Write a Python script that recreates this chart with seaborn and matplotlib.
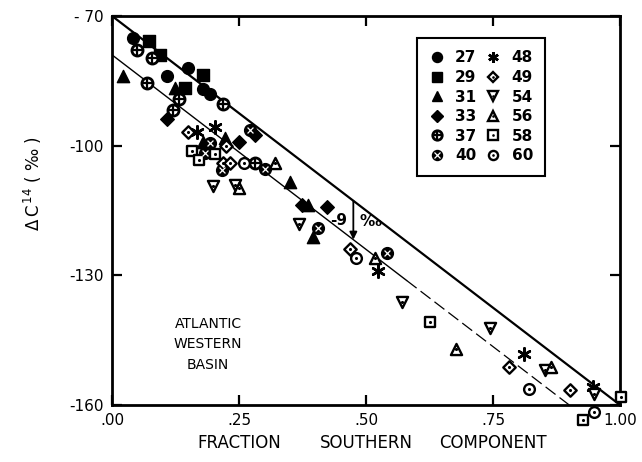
import numpy as np
import pandas as pd
import matplotlib
matplotlib.use('Agg')
import matplotlib.pyplot as plt
import seaborn as sns
from matplotlib.lines import Line2D

sns.set_style('ticks')
plt.rcParams['font.family'] = ['DejaVu Sans']
plt.rcParams['text.color'] = 'black'
plt.rcParams['xtick.color'] = 'black'
plt.rcParams['ytick.color'] = 'black'
plt.rcParams['xtick.labelcolor'] = 'black'
plt.rcParams['ytick.labelcolor'] = 'black'

# ---------------- data ----------------
x27 = [0.041, 0.108, 0.150, 0.180, 0.193]
y27 = [-75.0, -84.0, -82.0, -86.9, -88.1]
x29 = [0.072, 0.094, 0.180, 0.144]
y29 = [-75.9, -79.0, -83.7, -86.6]
x31 = [0.022, 0.123, 0.222, 0.180, 0.350, 0.386, 0.396]
y31 = [-84.0, -86.7, -98.3, -99.1, -108.5, -113.8, -121.2]
x33 = [0.109, 0.281, 0.250, 0.373, 0.423]
y33 = [-93.9, -97.5, -99.1, -113.8, -114.1]
x37 = [0.050, 0.078, 0.068, 0.132, 0.219, 0.121, 0.281]
y37 = [-77.9, -79.8, -85.6, -89.1, -90.4, -91.8, -103.9]
x40 = [0.272, 0.193, 0.183, 0.216, 0.301, 0.405, 0.541]
y40 = [-96.4, -99.5, -101.8, -105.6, -105.3, -119.1, -124.9]
x48 = [0.168, 0.203, 0.524, 0.810, 0.947]
y48 = [-96.8, -95.8, -129.0, -148.1, -155.8]
x49 = [0.149, 0.224, 0.219, 0.232, 0.469, 0.782, 0.902]
y49 = [-96.9, -100.0, -104.1, -103.9, -123.8, -151.3, -156.6]
x54 = [0.199, 0.242, 0.369, 0.570, 0.744, 0.852, 0.949]
y54 = [-109.4, -109.1, -118.2, -136.1, -142.3, -151.9, -157.5]
x56 = [0.321, 0.249, 0.518, 0.677, 0.864]
y56 = [-103.9, -109.9, -126.1, -147.1, -151.3]
x58 = [0.157, 0.171, 0.203, 0.626, 1.001, 0.928]
y58 = [-101.2, -103.3, -101.9, -140.9, -158.1, -163.4]
x60 = [0.259, 0.480, 0.821, 0.949]
y60 = [-104.1, -126.1, -156.2, -161.6]

upper_x = [0.0, 1.0]
upper_y = [-70.0, -160.0]
lower_solid_x = [0.0, 0.58]
lower_solid_y = [-79.0, -131.2]
lower_dash_x = [0.58, 0.90]
lower_dash_y = [-131.2, -160.0]
arrow_x = 0.475
arrow_top = -112.75
arrow_bottom = -121.75

xticks = [0.0, 0.25, 0.5, 0.75, 1.0]
xticklabels = ['.00', '.25', '.50', '.75', '1.00']
yticks = [-160, -130, -100, -70]
yticklabels = ['-160', '-130', '-100', '- 70']
series_labels = ['27', '29', '31', '33', '37', '40', '48', '49', '54', '56', '58', '60']

# ---------------- figure ----------------
fig = plt.figure(figsize=(6.42, 4.62), dpi=100)
ax = fig.add_axes([0.1745, 0.1234, 0.7913, 0.842])

# reference lines
sns.lineplot(x=upper_x, y=upper_y, ax=ax, color='black', lw=1.6, zorder=2)
sns.lineplot(x=lower_solid_x, y=lower_solid_y, ax=ax, color='black', lw=1.0, zorder=2)
ax.plot(lower_dash_x, lower_dash_y, color='black', lw=0.9, dashes=(10, 4), zorder=2)

# marker styles: list of (marker, face, edge, lw, size) layers
BLK = 'black'
WHT = 'white'
dot = ('o', BLK, BLK, 0, 5)
styles = {
    '27': [('o', BLK, BLK, 1, 72)],
    '29': [('s', BLK, BLK, 1, 64)],
    '31': [('^', BLK, BLK, 1, 78)],
    '33': [('D', BLK, BLK, 1, 48)],
    '37': [('o', WHT, BLK, 2.0, 64), ('+', BLK, BLK, 1.6, 45)],
    '40': [('o', BLK, BLK, 1, 72), ('x', WHT, WHT, 0.9, 18)],
    '48': [((6, 2, 0), BLK, BLK, 1.8, 80)],
    '49': [('D', WHT, BLK, 1.7, 40), dot],
    '54': [('v', WHT, BLK, 1.7, 64), dot],
    '56': [('^', WHT, BLK, 1.7, 64), dot],
    '58': [('s', WHT, BLK, 1.7, 60), dot],
    '60': [('o', WHT, BLK, 1.7, 60), dot],
}
data = {
    '27': (x27, y27), '29': (x29, y29), '31': (x31, y31), '33': (x33, y33),
    '37': (x37, y37), '40': (x40, y40), '48': (x48, y48), '49': (x49, y49),
    '54': (x54, y54), '56': (x56, y56), '58': (x58, y58), '60': (x60, y60),
}

for lab in series_labels:
    xs, ys = data[lab]
    for k, (m, fc, ec, lw, s) in enumerate(styles[lab]):
        sns.scatterplot(x=xs, y=ys, ax=ax, marker=m, s=s, color=fc,
                        edgecolor=ec, linewidth=lw, clip_on=False,
                        zorder=4 + k, legend=False)

# arrow and annotation
ax.annotate('', xy=(arrow_x, arrow_bottom), xytext=(arrow_x, arrow_top),
            arrowprops=dict(arrowstyle='-|>', lw=1.3, color='black',
                            mutation_scale=11, shrinkA=0, shrinkB=0))
ax.text(arrow_x - 0.012, -117.3, '-9', ha='right', va='center',
        fontsize=11, fontweight='bold')
ax.text(arrow_x + 0.012, -117.6, '‰', ha='left', va='center',
        fontsize=11, fontweight='bold')

# region text
for t, yy in zip(['ATLANTIC', 'WESTERN', 'BASIN'], [-141.3, -146.0, -150.8]):
    ax.text(0.189, yy, t, ha='center', va='center', fontsize=10)

# legend
handles = []
for lab in series_labels:
    hs = []
    for (m, fc, ec, lw, s) in styles[lab]:
        hs.append(Line2D([], [], linestyle='none', marker=m,
                         markersize=np.sqrt(s) * 0.85, markerfacecolor=fc,
                         markeredgecolor=ec, markeredgewidth=lw))
    handles.append(tuple(hs))
leg = ax.legend(handles, series_labels, ncol=2, loc='upper left',
                bbox_to_anchor=(0.600, 0.943), frameon=True, fancybox=False,
                edgecolor='black', framealpha=1,
                prop={'weight': 'bold', 'size': 11},
                labelspacing=0.3, columnspacing=0.6, handletextpad=0.7,
                handlelength=1.0, borderpad=0.8, borderaxespad=0)
leg.get_frame().set_linewidth(1.5)

# axes
ax.set_xlim(0, 1.0)
ax.set_ylim(-160, -70)
ax.set_xticks(xticks)
ax.set_xticklabels(xticklabels)
ax.set_yticks(yticks)
ax.set_yticklabels(yticklabels)
ax.tick_params(direction='in', length=7, width=1.6, top=True, right=True,
               labelsize=11, pad=6, colors='black')
for sp in ax.spines.values():
    sp.set_linewidth(2.0)
    sp.set_visible(True)
    sp.set_color('black')
ax.set_xlabel('')
ax.set_ylabel('')

# axis titles
tr = ax.get_xaxis_transform()
for word, xx in zip(['FRACTION', 'SOUTHERN', 'COMPONENT'], [0.25, 0.50, 0.75]):
    ax.text(xx, -0.098, word, transform=tr, ha='center', va='center', fontsize=12)
ax.text(-0.155, 0.57, r'$\Delta\,$C$^{\,14}$ ( ‰ )', transform=ax.transAxes,
        rotation=90, ha='center', va='center', fontsize=12)

fig.savefig('out.png', dpi=100)
